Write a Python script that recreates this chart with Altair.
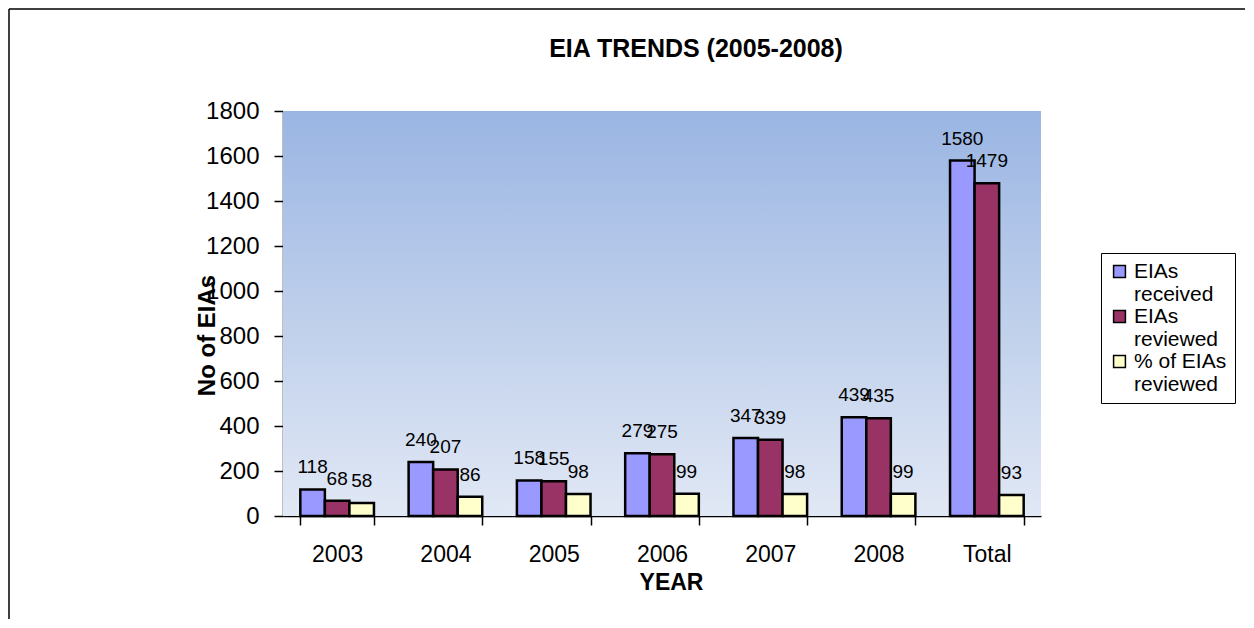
import altair as alt
import pandas as pd

# ---- data ----
years = ["2003", "2004", "2005", "2006", "2007", "2008", "Total"]
received = [118, 240, 158, 279, 347, 439, 1580]
reviewed = [68, 207, 155, 275, 339, 435, 1479]
pct_reviewed = [58, 86, 98, 99, 98, 99, 93]
series = ["EIAs received", "EIAs reviewed", "% of EIAs reviewed"]
colors = ["#9999FF", "#993366", "#FFFFCC"]
y_ticks = [0, 200, 400, 600, 800, 1000, 1200, 1400, 1600, 1800]
title_text = "EIA TRENDS (2005-2008)"

rows = []
for i, yr in enumerate(years):
    for s, vals in zip(series, [received, reviewed, pct_reviewed]):
        rows.append({"year": yr, "series": s, "value": vals[i]})
df = pd.DataFrame(rows)

FONT = "Liberation Sans"
W, H = 758, 405
PL, PT = 275, 103
PR = 1254 - 16 - PL - W - 1
PB = 628 - 16 - PT - H - 1

one = alt.Data(values=[{}])

bg = alt.Chart(one).mark_rect(
    color={
        "gradient": "linear", "x1": 0, "y1": 0, "x2": 0, "y2": 1,
        "stops": [
            {"offset": 0, "color": "#9AB5E3"},
            {"offset": 0.5, "color": "#BECFEB"},
            {"offset": 1, "color": "#E1E8F5"},
        ],
    }
).encode(x=alt.value(0), x2=alt.value(W), y=alt.value(0), y2=alt.value(H))

base = alt.Chart(df).encode(
    x=alt.X(
        "year:N", sort=years,
        scale=alt.Scale(paddingInner=0.32, paddingOuter=0.16),
        axis=alt.Axis(
            title="YEAR", labelAngle=0, tickBand="extent", tickSize=9,
            tickColor="black", tickWidth=1.5, domainColor="black", domainWidth=1.5,
            labelFont=FONT, labelFontSize=23, labelColor="black", labelPadding=18,
            titleFont=FONT, titleFontSize=23, titleFontWeight="bold", titleColor="black",
            titleX=388, titleY=55, titleBaseline="top", titleAnchor="middle",
        ),
    ),
    xOffset=alt.XOffset("series:N", sort=series),
    y=alt.Y(
        "value:Q",
        scale=alt.Scale(domain=[0, 1800], nice=False),
        axis=alt.Axis(
            values=y_ticks, format="d", grid=False, tickSize=9, tickColor="black",
            tickWidth=1.5, domainColor="black", domainWidth=1.5,
            labelFont=FONT, labelFontSize=24, labelColor="black", labelPadding=15,
            title="No of EIAs", titleFont=FONT, titleFontSize=24, titleFontWeight="bold",
            titleColor="black", titleAngle=270, titleX=-69, titleY=224,
            titleAlign="center", titleBaseline="alphabetic",
        ),
    ),
)

bars = base.mark_bar(stroke="black", strokeWidth=2.5).encode(
    color=alt.Color(
        "series:N", sort=series,
        scale=alt.Scale(domain=series, range=colors),
        legend=alt.Legend(
            title=None, orient="none", legendX=818, legendY=142,
            symbolType="square", symbolSize=140, symbolStrokeColor="black",
            symbolStrokeWidth=1.5, symbolOpacity=1,
            labelFont=FONT, labelFontSize=21, labelColor="black", labelLimit=300,
            labelExpr="datum.label == '% of EIAs reviewed' ? ['% of EIAs', 'reviewed'] : split(datum.label, ' ')",
            strokeColor="black", fillColor="white", padding=8, rowPadding=0,
        ),
    )
)

labels = base.mark_text(
    baseline="alphabetic", dy=-16, font=FONT, fontSize=19, color="black"
).encode(text="value:Q")

title = alt.Chart(one).mark_text(
    font=FONT, fontSize=25, fontWeight="bold", color="black",
    align="center", baseline="alphabetic",
).encode(x=alt.value(413), y=alt.value(-54), text=alt.value(title_text))

frame_left = alt.Chart(one).mark_rule(color="black", strokeWidth=1.5).encode(
    x=alt.value(-274), y=alt.value(-102), y2=alt.value(H + PB)
)
frame_top = alt.Chart(one).mark_rule(color="black", strokeWidth=1.5).encode(
    x=alt.value(-274), x2=alt.value(W + PR), y=alt.value(-102)
)

chart = alt.layer(bg, bars, labels, title, frame_left, frame_top).properties(
    width=W, height=H,
    autosize=alt.AutoSizeParams(type="none"),
    padding={"left": PL, "top": PT, "right": PR, "bottom": PB},
    background="white",
).configure_view(stroke=None)

chart.save("out.html", embed_options={"renderer": "svg", "actions": False})
